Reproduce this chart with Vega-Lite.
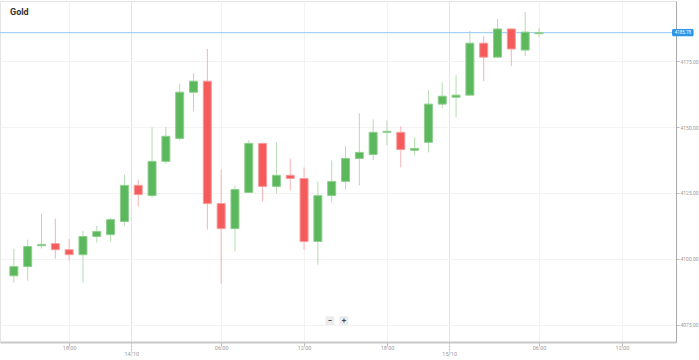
{
  "$schema": "https://vega.github.io/schema/vega-lite/v6.json",
  "width": 676,
  "height": 341,
  "autosize": "none",
  "padding": {"left": 0, "top": 1, "right": 23, "bottom": 18},
  "background": "white",
  "config": {
    "view": {"stroke": "#e4e4e4", "strokeWidth": 1},
    "font": "Roboto"
  },
  "title": {"text": "Gold", "anchor": "start", "frame": "group", "orient": "top", "offset": 0, "baseline": "middle", "dx": 10, "dy": 20, "fontSize": 9, "fontWeight": "bold", "color": "#333333", "font": "Roboto"},
  "datasets": {
    "candles": [
      {"i": 1, "o": 4093.6, "c": 4097.1, "h": 4103.9, "l": 4091.0},
      {"i": 2, "o": 4097.1, "c": 4104.7, "h": 4107.3, "l": 4091.7},
      {"i": 3, "o": 4105.0, "c": 4105.5, "h": 4117.2, "l": 4103.9},
      {"i": 4, "o": 4105.8, "c": 4103.5, "h": 4115.3, "l": 4100.1},
      {"i": 5, "o": 4103.5, "c": 4101.6, "h": 4107.7, "l": 4099.3},
      {"i": 6, "o": 4101.6, "c": 4108.5, "h": 4110.7, "l": 4091.0},
      {"i": 7, "o": 4108.5, "c": 4110.4, "h": 4112.6, "l": 4106.2},
      {"i": 8, "o": 4109.2, "c": 4114.9, "h": 4115.7, "l": 4106.6},
      {"i": 9, "o": 4114.2, "c": 4127.9, "h": 4132.0, "l": 4112.6},
      {"i": 10, "o": 4127.9, "c": 4124.4, "h": 4130.1, "l": 4119.9},
      {"i": 11, "o": 4124.0, "c": 4137.0, "h": 4149.9, "l": 4123.3},
      {"i": 12, "o": 4137.0, "c": 4146.5, "h": 4150.0, "l": 4136.0},
      {"i": 13, "o": 4145.7, "c": 4163.2, "h": 4166.5, "l": 4145.0},
      {"i": 14, "o": 4163.2, "c": 4167.4, "h": 4170.4, "l": 4156.0},
      {"i": 15, "o": 4167.4, "c": 4121.0, "h": 4179.6, "l": 4111.1},
      {"i": 16, "o": 4121.0, "c": 4111.5, "h": 4133.9, "l": 4090.6},
      {"i": 17, "o": 4111.5, "c": 4126.3, "h": 4127.9, "l": 4102.8},
      {"i": 18, "o": 4125.2, "c": 4143.8, "h": 4145.0, "l": 4125.0},
      {"i": 19, "o": 4143.8, "c": 4127.5, "h": 4143.9, "l": 4121.8},
      {"i": 20, "o": 4127.5, "c": 4131.7, "h": 4144.2, "l": 4124.8},
      {"i": 21, "o": 4131.7, "c": 4130.5, "h": 4138.1, "l": 4126.0},
      {"i": 22, "o": 4130.5, "c": 4106.6, "h": 4134.7, "l": 4103.5},
      {"i": 23, "o": 4106.6, "c": 4124.0, "h": 4129.4, "l": 4097.8},
      {"i": 24, "o": 4124.0, "c": 4129.4, "h": 4137.4, "l": 4121.4},
      {"i": 25, "o": 4129.4, "c": 4138.1, "h": 4142.7, "l": 4126.3},
      {"i": 26, "o": 4138.1, "c": 4140.4, "h": 4155.2, "l": 4127.9},
      {"i": 27, "o": 4139.6, "c": 4148.0, "h": 4152.9, "l": 4137.4},
      {"i": 28, "o": 4148.0, "c": 4148.4, "h": 4152.6, "l": 4143.1},
      {"i": 29, "o": 4148.0, "c": 4141.5, "h": 4150.3, "l": 4134.7},
      {"i": 30, "o": 4141.2, "c": 4141.9, "h": 4146.1, "l": 4139.3},
      {"i": 31, "o": 4144.2, "c": 4158.7, "h": 4164.0, "l": 4140.4},
      {"i": 32, "o": 4158.7, "c": 4161.7, "h": 4167.0, "l": 4157.1},
      {"i": 33, "o": 4161.3, "c": 4162.1, "h": 4169.7, "l": 4153.7},
      {"i": 34, "o": 4162.1, "c": 4181.8, "h": 4186.4, "l": 4162.0},
      {"i": 35, "o": 4181.8, "c": 4176.5, "h": 4184.5, "l": 4167.4},
      {"i": 36, "o": 4176.5, "c": 4187.2, "h": 4191.0, "l": 4176.4},
      {"i": 37, "o": 4187.2, "c": 4179.6, "h": 4187.5, "l": 4173.1},
      {"i": 38, "o": 4179.2, "c": 4186.0, "h": 4193.6, "l": 4176.9},
      {"i": 39, "o": 4185.4, "c": 4185.78, "h": 4187.5, "l": 4184.1}
    ],
    "price": [{"p": 4185.78, "x1": 48.63, "x2": 50.19, "y1": 4184.4, "y2": 4187.2, "xm": 49.41, "label": "4185.78"}],
    "buttons": [
      {"label": "−", "x": 23.88, "x1": 23.55, "x2": 24.2, "y": 4076.6, "y1": 4074.9, "y2": 4078.3},
      {"label": "+", "x": 24.88, "x1": 24.55, "x2": 25.2, "y": 4076.6, "y1": 4074.9, "y2": 4078.3}
    ]
  },
  "layer": [
    {
      "data": {"name": "candles"},
      "mark": {"type": "rule", "strokeWidth": 1},
      "encoding": {
        "x": {
          "field": "i", "type": "quantitative",
          "scale": {"domain": [0.358, 48.554], "nice": false, "zero": false},
          "axis": {
            "title": null,
            "values": [5, 9.5, 16, 22, 28, 32.5, 39, 45],
            "labelExpr": "datum.value == 9.5 ? '14/10' : datum.value == 32.5 ? '15/10' : datum.value == 5 || datum.value == 28 ? '18:00' : datum.value == 16 || datum.value == 39 ? '06:00' : '12:00'",
            "labelFontSize": 5.5,
            "labelColor": "#999999",
            "labelPadding": -0.5,
            "tickColor": "#bbbbbb",
            "tickSize": {"condition": {"test": "datum.value == 9.5 || datum.value == 32.5", "value": 10}, "value": 4},
            "tickDash": {"condition": {"test": "datum.value == 9.5 || datum.value == 32.5", "value": [2, 1]}, "value": []},
            "domainColor": "#c8c8c8",
            "domainWidth": 2,
            "grid": true,
            "gridColor": {"condition": {"test": "datum.value == 9.5 || datum.value == 32.5", "value": "#e4e4e4"}, "value": "#f3f3f3"},
            "gridWidth": 1
          }
        },
        "y": {
          "field": "l", "type": "quantitative",
          "scale": {"domain": [4068.5, 4197.8], "nice": false, "zero": false},
          "axis": {
            "title": null,
            "orient": "right",
            "values": [4075, 4100, 4125, 4150, 4175],
            "format": ".2f",
            "labelFontSize": 5,
            "labelColor": "#999999",
            "labelPadding": 1,
            "tickSize": 3,
            "tickColor": "#bbbbbb",
            "domainColor": "#aaaaaa",
            "grid": true,
            "gridColor": "#f3f3f3"
          }
        },
        "y2": {"field": "h"},
        "color": {"condition": {"test": "datum.c >= datum.o", "value": "#b5dcb0"}, "value": "#f6b2b2"}
      }
    },
    {
      "data": {"name": "price"},
      "mark": {"type": "rule", "color": "#90c8f2", "strokeWidth": 1},
      "encoding": {"y": {"field": "p", "type": "quantitative"}}
    },
    {
      "data": {"name": "candles"},
      "mark": {"type": "bar", "size": 8, "strokeWidth": 1},
      "encoding": {
        "x": {"field": "i", "type": "quantitative"},
        "y": {"field": "o", "type": "quantitative"},
        "y2": {"field": "c"},
        "fill": {"condition": {"test": "datum.c >= datum.o", "value": "#5cb85c"}, "value": "#f45b5b"},
        "stroke": {"condition": {"test": "datum.c >= datum.o", "value": "#8fce8f"}, "value": "#f79a9a"}
      }
    },
    {
      "data": {"name": "price"},
      "mark": {"type": "rect", "fill": "#2b95e9", "cornerRadius": 1.5},
      "encoding": {
        "x": {"field": "x1", "type": "quantitative"},
        "x2": {"field": "x2"},
        "y": {"field": "y1", "type": "quantitative"},
        "y2": {"field": "y2"}
      }
    },
    {
      "data": {"name": "price"},
      "mark": {"type": "text", "color": "white", "fontSize": 4.5, "baseline": "middle", "align": "center"},
      "encoding": {
        "x": {"field": "xm", "type": "quantitative"},
        "y": {"field": "p", "type": "quantitative"},
        "text": {"field": "label"}
      }
    },
    {
      "data": {"name": "buttons"},
      "mark": {"type": "rect", "fill": "#ececec", "cornerRadius": 1},
      "encoding": {
        "x": {"field": "x1", "type": "quantitative"},
        "x2": {"field": "x2"},
        "y": {"field": "y1", "type": "quantitative"},
        "y2": {"field": "y2"}
      }
    },
    {
      "data": {"name": "buttons"},
      "mark": {"type": "text", "color": "#444444", "fontSize": 8, "fontWeight": "bold", "baseline": "middle", "align": "center"},
      "encoding": {
        "x": {"field": "x", "type": "quantitative"},
        "y": {"field": "y", "type": "quantitative"},
        "text": {"field": "label"}
      }
    }
  ]
}
